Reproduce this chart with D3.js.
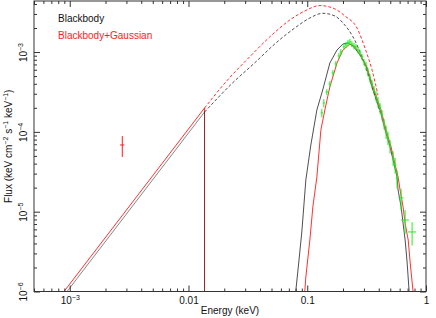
<!DOCTYPE html>
<html>
<head>
<meta charset="utf-8">
<script src="https://cdn.jsdelivr.net/npm/d3@7"></script>
<style>
  body { margin: 0; background: #fff; }
  svg { display: block; font-family: "Liberation Sans", Arial, sans-serif; }
</style>
</head>
<body>
<svg id="chart" width="436" height="318"></svg>
<script>
// axis ranges
const xDomain = [5e-4, 1];
const yDomain = [1e-6, 4.36e-3];
const xMajor = [1e-3, 1e-2, 1e-1, 1];
const yMajor = [1e-6, 1e-5, 1e-4, 1e-3];
const xTickText = [["10", "\u22123"], ["0.01", ""], ["0.1", ""], ["1", ""]];
const yTickText = [["10", "\u22126"], ["10", "\u22125"], ["10", "\u22124"], ["10", "\u22123"]];
const legendNames = ["Blackbody", "Blackbody+Gaussian"];

// folded model, low energy branch (solid)
const lowBbE = [0.00095, 0.01365];
const lowBbF = [1.0e-6, 1.77e-4];
const lowBgE = [0.000895, 0.01365];
const lowBgF = [1.0e-6, 1.99e-4];

// unfolded model (dashed)
const dashBbE = [0.01365, 0.0235, 0.0360, 0.0532, 0.0785, 0.1052, 0.135, 0.171, 0.1995, 0.2427, 0.289, 0.337, 0.410];
const dashBbF = [1.77e-4, 4.10e-4, 7.29e-4, 1.26e-3, 2.00e-3, 2.67e-3, 3.06e-3, 2.83e-3, 2.32e-3, 1.55e-3, 8.69e-4, 4.47e-4, 1.77e-4];
const dashBgE = [0.01365, 0.02133, 0.0327, 0.0483, 0.0713, 0.0953, 0.128, 0.171, 0.2075, 0.2624, 0.306, 0.351, 0.394];
const dashBgF = [1.99e-4, 4.47e-4, 8.69e-4, 1.545e-3, 2.52e-3, 3.27e-3, 3.82e-3, 3.47e-3, 2.83e-3, 2.00e-3, 1.125e-3, 5.97e-4, 2.90e-4];

// folded model, high energy branch (histogram)
const histBbE = [0.0800, 0.0849, 0.0900, 0.0973, 0.1072, 0.1205, 0.135, 0.155, 0.178, 0.1995, 0.220, 0.2427, 0.278, 0.313, 0.358, 0.410, 0.452, 0.498, 0.528, 0.570, 0.582, 0.617, 0.641, 0.667, 0.693, 0.721];
const histBbF = [1e-6, 2.34e-6, 5.57e-6, 2.49e-5, 6.85e-5, 1.88e-4, 3.35e-4, 7.29e-4, 1.06e-3, 1.26e-3, 1.30e-3, 1.19e-3, 9.2e-4, 6.7e-4, 3.35e-4, 1.88e-4, 1.06e-4, 6.47e-5, 4.45e-5, 2.72e-5, 1.87e-5, 1.15e-5, 7.2e-6, 4.42e-6, 2.34e-6, 1e-6];
const histBgE = [0.0953, 0.0973, 0.1052, 0.1115, 0.1205, 0.1303, 0.1407, 0.155, 0.178, 0.1995, 0.2286, 0.2523, 0.283, 0.318, 0.365, 0.418, 0.461, 0.508, 0.538, 0.582, 0.605, 0.641, 0.667, 0.708, 0.735, 0.778];
const histBgF = [1e-6, 1.52e-6, 4.42e-6, 1.15e-5, 2.72e-5, 1.06e-4, 1.88e-4, 3.66e-4, 7.29e-4, 1.06e-3, 1.26e-3, 1.16e-3, 8.93e-4, 6.5e-4, 3.35e-4, 1.88e-4, 1.06e-4, 6.47e-5, 4.45e-5, 2.72e-5, 1.87e-5, 1.15e-5, 7.2e-6, 4.42e-6, 2.34e-6, 1e-6];

// data: green spectrum
const gE = [0.1327, 0.1380, 0.1462, 0.1552, 0.1644, 0.1742, 0.1849, 0.1919, 0.2037, 0.2118, 0.2203, 0.2286, 0.2377, 0.2472, 0.2570, 0.2673, 0.2780, 0.2891, 0.3006, 0.3126, 0.3243, 0.3373, 0.3508, 0.3648, 0.3793, 0.3945, 0.4102, 0.4266, 0.4436, 0.4613, 0.4786, 0.4977, 0.5284, 0.5495, 0.5702, 0.6166, 0.6668, 0.7638];
const gF = [1.73e-4, 2.30e-4, 3.16e-4, 3.98e-4, 5.47e-4, 7.10e-4, 8.93e-4, 1.00e-3, 1.16e-3, 1.23e-3, 1.30e-3, 1.34e-3, 1.26e-3, 1.19e-3, 1.16e-3, 1.06e-3, 9.75e-4, 8.69e-4, 7.52e-4, 6.70e-4, 5.64e-4, 4.73e-4, 3.98e-4, 3.35e-4, 2.82e-4, 2.37e-4, 1.99e-4, 1.63e-4, 1.26e-4, 1.00e-4, 8.40e-5, 6.65e-5, 4.71e-5, 3.85e-5, 2.64e-5, 1.49e-5, 7.87e-6, 5.57e-6];
const gEerr = [0.003, 0.003, 0.004, 0.004, 0.004, 0.004, 0.005, 0.005, 0.005, 0.005, 0.006, 0.006, 0.006, 0.006, 0.006, 0.007, 0.007, 0.007, 0.008, 0.008, 0.008, 0.008, 0.009, 0.009, 0.009, 0.010, 0.010, 0.010, 0.011, 0.011, 0.012, 0.012, 0.013, 0.014, 0.015, 0.03, 0.05, 0.06];
const gFerr = [2.1e-5, 2.8e-5, 2.8e-5, 3.6e-5, 4.9e-5, 6.4e-5, 8.0e-5, 9.0e-5, 1.0e-4, 1.1e-4, 1.2e-4, 1.2e-4, 1.1e-4, 1.1e-4, 1.0e-4, 9.5e-5, 8.8e-5, 7.8e-5, 6.8e-5, 8.0e-5, 6.8e-5, 5.7e-5, 4.8e-5, 4.0e-5, 4.2e-5, 3.6e-5, 3.0e-5, 2.4e-5, 1.9e-5, 1.9e-5, 1.6e-5, 1.3e-5, 1.0e-5, 8.5e-6, 6.9e-6, 4.5e-6, 2.6e-6, 1.8e-6];

// data: the single red point
const rE = [0.00277];
const rF = [6.85e-5];
const rEerr = [0.00011];
const rFerr = [2.0e-5];

const W = 436, H = 318;
const margin = {top: 1, right: 10, bottom: 26.5, left: 34};

const svg = d3.select("#chart");

const x = d3.scaleLog().domain(xDomain).range([margin.left, W - margin.right]);
const y = d3.scaleLog().domain(yDomain).range([H - margin.bottom, margin.top]);

const zip = (a, b) => a.map((v, i) => [v, b[i]]);

svg.append("clipPath").attr("id", "plotclip")
    .append("rect")
    .attr("x", margin.left).attr("y", margin.top)
    .attr("width", W - margin.left - margin.right)
    .attr("height", H - margin.top - margin.bottom);

const plot = svg.append("g").attr("clip-path", "url(#plotclip)");

const line = d3.line().x(d => x(d[0])).y(d => y(d[1]));
const smooth = d3.line().x(d => x(d[0])).y(d => y(d[1])).curve(d3.curveMonotoneX);

const BLACK = "#222", RED = "#ff1a1a", GREEN = "#1fef1f";

// low energy branch + drop to the bottom of the plot
function withDrop(pts) {
    const last = pts[pts.length - 1];
    return pts.concat([[last[0], y.domain()[0]]]);
}

plot.append("path").datum(withDrop(zip(lowBgE, lowBgF)))
    .attr("d", line).attr("fill", "none").attr("stroke", RED).attr("stroke-width", 0.9);
plot.append("path").datum(withDrop(zip(lowBbE, lowBbF)))
    .attr("d", line).attr("fill", "none").attr("stroke", BLACK).attr("stroke-width", 0.9)
    .attr("stroke-opacity", 0.6);

// dashed unfolded models
plot.append("path").datum(zip(dashBbE, dashBbF))
    .attr("d", smooth).attr("fill", "none").attr("stroke", BLACK).attr("stroke-width", 0.8)
    .attr("stroke-dasharray", "3,2");
plot.append("path").datum(zip(dashBgE, dashBgF))
    .attr("d", smooth).attr("fill", "none").attr("stroke", RED).attr("stroke-width", 0.9)
    .attr("stroke-dasharray", "3,2");

// folded models at high energy
plot.append("path").datum(zip(histBbE, histBbF))
    .attr("d", line).attr("fill", "none").attr("stroke", BLACK).attr("stroke-width", 0.8);
plot.append("path").datum(zip(histBgE, histBgF))
    .attr("d", line).attr("fill", "none").attr("stroke", RED).attr("stroke-width", 0.9);

// error-bar crosses
function crosses(E, F, Ee, Fe, color) {
    const g = plot.append("g").attr("stroke", color).attr("stroke-width", 1);
    const pts = E.map((e, i) => ({e: e, f: F[i], ee: Ee[i], fe: Fe[i]}));
    g.selectAll("line.h").data(pts).enter().append("line").attr("class", "h")
        .attr("x1", d => x(d.e - d.ee)).attr("x2", d => x(d.e + d.ee))
        .attr("y1", d => y(d.f)).attr("y2", d => y(d.f));
    g.selectAll("line.v").data(pts).enter().append("line").attr("class", "v")
        .attr("x1", d => x(d.e)).attr("x2", d => x(d.e))
        .attr("y1", d => y(d.f - d.fe)).attr("y2", d => y(d.f + d.fe));
}
crosses(gE, gF, gEerr, gFerr, GREEN);
crosses(rE, rF, rEerr, rFerr, RED);

// axes: ticks on all four sides, pointing inward
const x0 = margin.left, x1 = W - margin.right, y0 = H - margin.bottom, y1 = margin.top;
const xMinor = x.ticks().filter(v => !xMajor.some(m => Math.abs(v / m - 1) < 1e-6));
const yMinor = y.ticks().filter(v => !yMajor.some(m => Math.abs(v / m - 1) < 1e-6));

function ticks(axis, pos, values, size) {
    const g = svg.append("g").attr("transform", pos)
        .call(axis.tickValues(values).tickSize(size).tickFormat(""));
    g.select(".domain").remove();
    g.selectAll("line").attr("stroke", "#333");
    return g;
}
ticks(d3.axisBottom(x), `translate(0,${y0})`, xMinor, -3);
ticks(d3.axisTop(x), `translate(0,${y1})`, xMinor, -3);
ticks(d3.axisTop(x), `translate(0,${y1})`, xMajor, -6);
ticks(d3.axisLeft(y), `translate(${x0},0)`, yMinor, -3);
ticks(d3.axisRight(y), `translate(${x1},0)`, yMinor, -3);
ticks(d3.axisRight(y), `translate(${x1},0)`, yMajor, -6);

function sup(sel, parts) {
    sel.text(null);
    sel.append("tspan").text(parts[0]);
    if (parts[1]) sel.append("tspan").attr("dy", -4).attr("font-size", 7).text(parts[1]);
}

const gx = svg.append("g").attr("transform", `translate(0,${y0})`)
    .call(d3.axisBottom(x).tickValues(xMajor).tickSize(-6).tickPadding(5));
gx.select(".domain").remove();
gx.selectAll("line").attr("stroke", "#333");
gx.selectAll("text")
    .attr("font-family", "Liberation Sans, Arial, sans-serif").attr("font-size", 10).attr("fill", "#111")
    .each(function (d, i) { sup(d3.select(this), xTickText[i]); });

const gy = svg.append("g").attr("transform", `translate(${x0},0)`)
    .call(d3.axisLeft(y).tickValues(yMajor).tickSize(-6));
gy.select(".domain").remove();
gy.selectAll("line").attr("stroke", "#333");
gy.selectAll("text")
    .attr("font-family", "Liberation Sans, Arial, sans-serif").attr("font-size", 10).attr("fill", "#111")
    .attr("transform", "rotate(-90)")
    .attr("x", 0).attr("y", -7).attr("dy", null)
    .attr("text-anchor", "middle")
    .each(function (d, i) { sup(d3.select(this), yTickText[i]); });

// frame
svg.append("rect")
    .attr("x", x0).attr("y", y1).attr("width", x1 - x0).attr("height", y0 - y1)
    .attr("fill", "none").attr("stroke", "#333").attr("stroke-width", 1);

// axis titles
svg.append("text")
    .attr("x", (x0 + x1) / 2).attr("y", 314)
    .attr("text-anchor", "middle").attr("font-size", 10).attr("fill", "#111")
    .text("Energy (keV)");

const yt = svg.append("text")
    .attr("transform", `translate(12,${(y0 + y1) / 2}) rotate(-90)`)
    .attr("text-anchor", "middle").attr("font-size", 10).attr("fill", "#111");
yt.append("tspan").text("Flux (keV cm");
yt.append("tspan").attr("dy", -4).attr("font-size", 7).text("\u22122");
yt.append("tspan").attr("dy", 4).text(" s");
yt.append("tspan").attr("dy", -4).attr("font-size", 7).text("\u22121");
yt.append("tspan").attr("dy", 4).text(" keV");
yt.append("tspan").attr("dy", -4).attr("font-size", 7).text("\u22121");
yt.append("tspan").attr("dy", 4).text(")");

// legend
svg.selectAll("text.legend").data(legendNames).enter().append("text")
    .attr("class", "legend")
    .attr("x", 58).attr("y", (d, i) => 22 + i * 17)
    .attr("font-size", 10)
    .attr("fill", (d, i) => i === 0 ? "#111" : RED)
    .text(d => d);
</script>
</body>
</html>
